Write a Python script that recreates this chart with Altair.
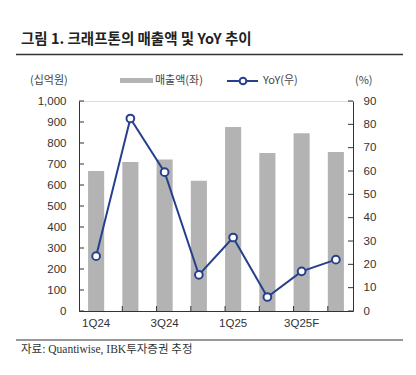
import altair as alt
import pandas as pd

categories = ["1Q24", "2Q24", "3Q24", "4Q24", "1Q25", "2Q25", "3Q25F", "4Q25F"]
revenue = [667, 710, 722, 620, 876, 752, 846, 757]
yoy = [23.5, 82.5, 59.5, 15.5, 31.5, 6.0, 17.0, 22.0]
x_labels = ["1Q24", "3Q24", "1Q25", "3Q25F"]
left_ticks = list(range(0, 1001, 100))
right_ticks = list(range(0, 91, 10))

title_text = "그림 1. 크래프톤의 매출액 및 YoY 추이"
source_text = "자료: Quantiwise, IBK투자증권 추정"
unit_left = "(십억원)"
unit_right = "(%)"
legend_bar = "매출액(좌)"
legend_line = "YoY(우)"

W, H = 274, 210
NAVY = "#26408e"
BAR = "#b3b3b3"
AX = "#333333"
FONT = "Liberation Sans"
KFONT = "Noto Sans CJK KR"

df = pd.DataFrame({"q": categories, "rev": revenue, "yoy": yoy})
xscale = alt.Scale(domain=categories, paddingInner=0.53, paddingOuter=0.265)
xaxis = alt.Axis(values=x_labels, labelAngle=0, ticks=False, tickSize=0, title=None,
                 domainColor=AX, labelColor=AX, labelFont=FONT,
                 labelFontSize=11.5, labelPadding=6)
lscale = alt.Scale(domain=[0, 1000], nice=False)
laxis = alt.Axis(orient="left", values=left_ticks, format=",.0f", grid=False, title=None,
                 ticks=False, tickSize=0, domainColor=AX, labelColor=AX,
                 labelFont=FONT, labelFontSize=11.5, labelPadding=13)
rscale = alt.Scale(domain=[0, 90], nice=False)
raxis = alt.Axis(orient="right", values=right_ticks, format=".0f", grid=False, ticks=False,
                 title=None, tickSize=0, domainColor=AX, labelColor=AX, labelFont=FONT,
                 labelFontSize=11.5, labelPadding=10)

bars = alt.Chart(df).mark_bar(color=BAR).encode(
    x=alt.X("q:N", scale=xscale, sort=categories, axis=xaxis),
    y=alt.Y("rev:Q", scale=lscale, axis=laxis),
)

lt = alt.Chart(pd.DataFrame({"v": left_ticks})).mark_rule(color=AX).encode(
    y=alt.Y("v:Q", scale=lscale, axis=laxis),
    x=alt.value(0), x2=alt.value(5))

xt = alt.Chart(pd.DataFrame({"q": categories[1:]})).mark_rule(color=AX).encode(
    x=alt.X("q:N", scale=xscale, sort=categories, bandPosition=0, axis=xaxis),
    y=alt.value(H), y2=alt.value(H - 5))

def txt(s, x, y, size=11, font=KFONT, color="#444", weight="normal", align="left"):
    return alt.Chart(pd.DataFrame({"t": [s]})).mark_text(
        font=font, fontSize=size, color=color, fontWeight=weight, align=align,
        baseline="middle").encode(text="t:N", x=alt.value(x), y=alt.value(y))

deco = [
    txt(title_text, -58, -61, size=14.5, color="#222", weight="bold"),
    alt.Chart(pd.DataFrame({"a": [0]})).mark_rule(color="#333", strokeWidth=1.5).encode(
        x=alt.value(-63), x2=alt.value(324), y=alt.value(-46.5)),
    txt(unit_left, -49, -20, size=11),
    txt(unit_right, 276, -20, size=11),
    alt.Chart(pd.DataFrame({"a": [0]})).mark_rect(color=BAR).encode(
        x=alt.value(41), x2=alt.value(74), y=alt.value(-23), y2=alt.value(-18)),
    txt(legend_bar, 76, -20, size=11),
    alt.Chart(pd.DataFrame({"a": [0]})).mark_rule(color=NAVY, strokeWidth=2).encode(
        x=alt.value(148), x2=alt.value(179), y=alt.value(-20)),
    alt.Chart(pd.DataFrame({"a": [0]})).mark_point(
        filled=True, fill="white", stroke=NAVY, strokeWidth=2, size=45, opacity=1).encode(
        x=alt.value(164), y=alt.value(-20)),
    txt(legend_line, 184, -20, size=11),
    alt.Chart(pd.DataFrame({"a": [0]})).mark_rule(color="#333", strokeWidth=1).encode(
        x=alt.value(-63), x2=alt.value(324), y=alt.value(239)),
    txt(source_text, -58, 249, size=11.5, font="Liberation Serif, Noto Sans CJK KR", color="#333"),
]

left = alt.layer(bars, lt, xt, *deco)

line = alt.Chart(df).mark_line(color=NAVY, strokeWidth=2).encode(
    x=alt.X("q:N", scale=xscale, sort=categories, axis=xaxis),
    y=alt.Y("yoy:Q", scale=rscale, axis=raxis))
pts = alt.Chart(df).mark_point(filled=True, fill="white", stroke=NAVY, strokeWidth=2,
                               size=60, opacity=1).encode(
    x=alt.X("q:N", scale=xscale, sort=categories, axis=xaxis),
    y=alt.Y("yoy:Q", scale=rscale, axis=raxis))
rt = alt.Chart(pd.DataFrame({"v": right_ticks})).mark_rule(color=AX).encode(
    y=alt.Y("v:Q", scale=rscale, axis=raxis), x=alt.value(W - 5), x2=alt.value(W))

right = alt.layer(line, pts, rt)

chart = alt.layer(left, right).resolve_scale(y="independent").properties(
    width=W, height=H,
    autosize=alt.AutoSizeParams(type="none"),
    padding={"left": 79, "top": 101, "right": 63, "bottom": 64},
).configure_view(stroke=None).configure(background="white")

chart.save("out.html", embed_options={"renderer": "svg", "actions": False})
